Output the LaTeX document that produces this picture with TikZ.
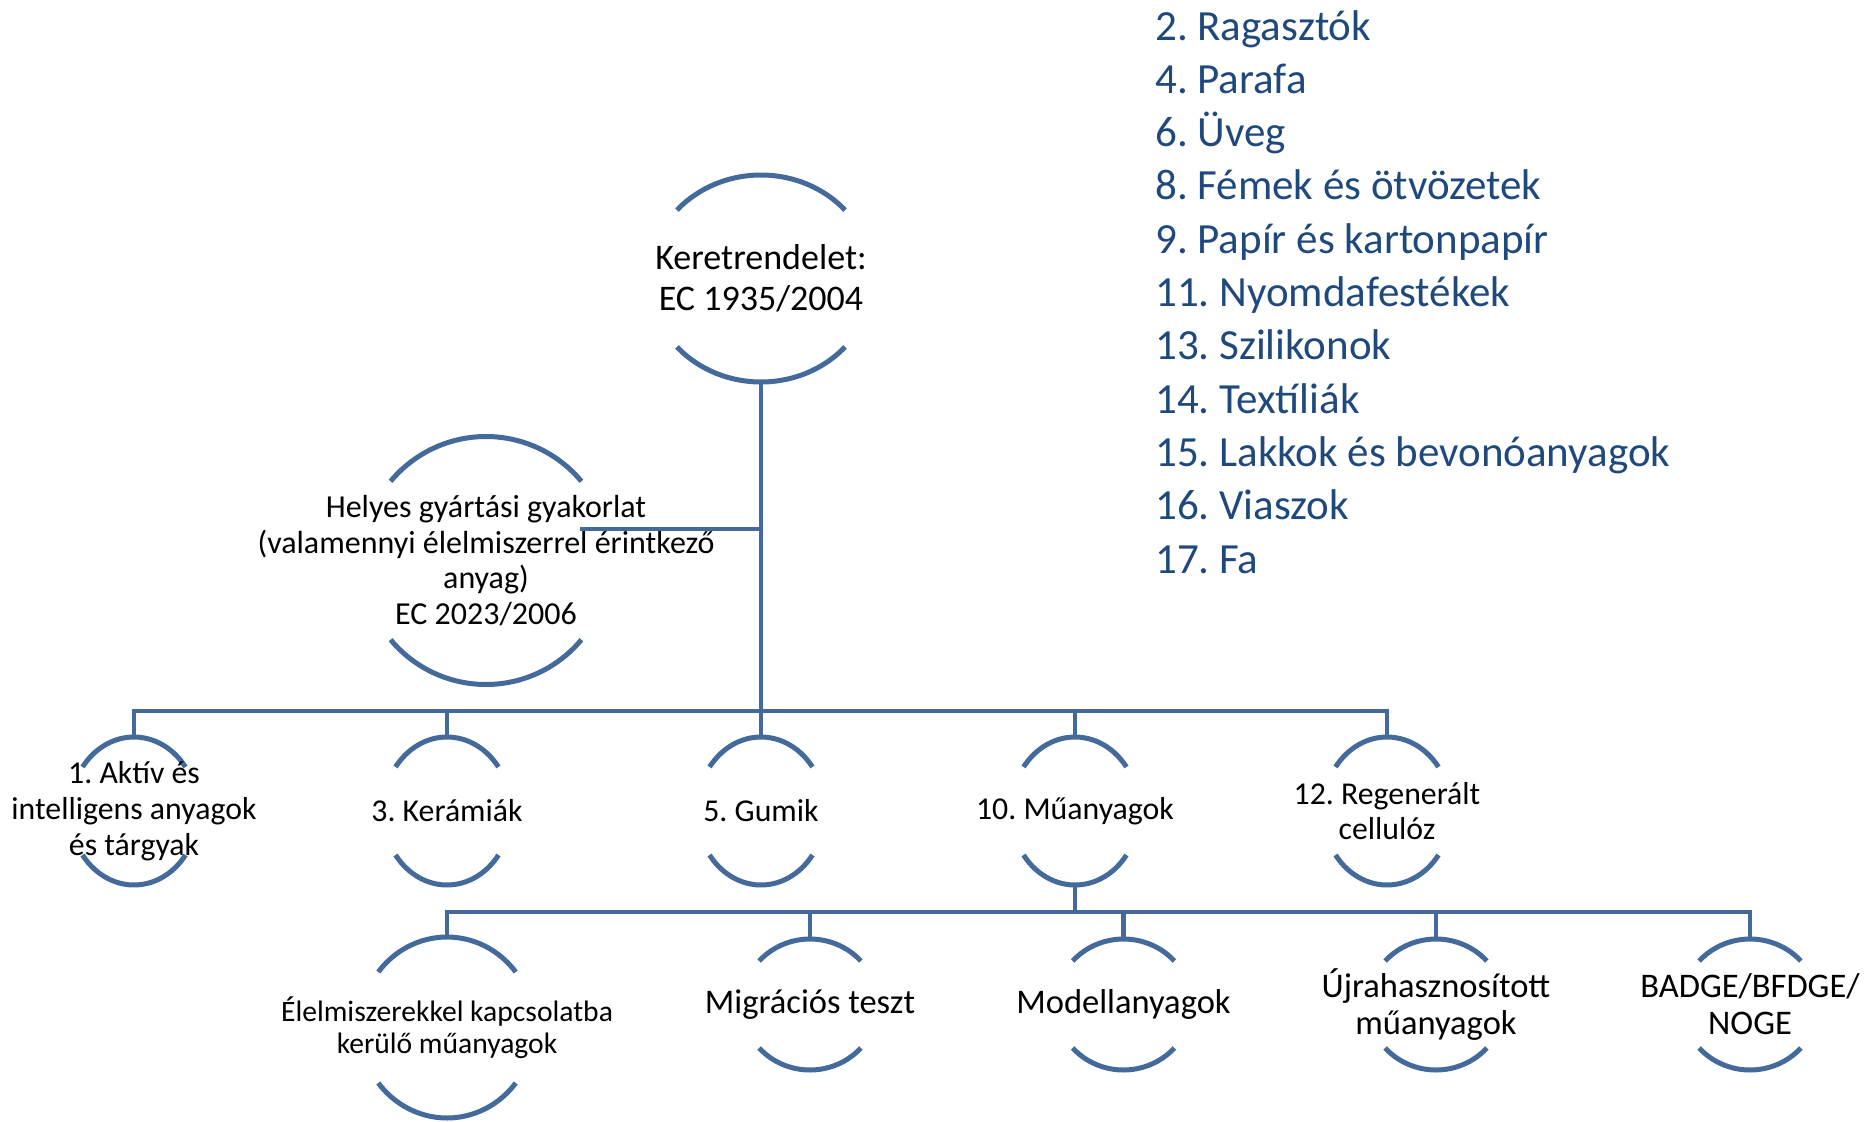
\documentclass[tikz,border=0pt]{standalone}
\usepackage{fontspec}
\setmainfont{Carlito}
\frenchspacing
\definecolor{lineblue}{HTML}{44699B}
\definecolor{textblue}{HTML}{1F497D}
\tikzset{
  arcline/.style={draw=lineblue, line width=5pt},
  conn/.style={draw=lineblue, line width=4.5pt},
  thinconn/.style={draw=lineblue, line width=3.5pt},
  rootlbl/.style={align=center, inner sep=0pt, font=\fontsize{36}{40.5}\selectfont},
  gmplbl/.style={align=center, inner sep=0pt, font=\fontsize{32}{35.5}\selectfont},
  onelbl/.style={align=center, inner sep=0pt, font=\fontsize{31.8}{35.7}\selectfont},
  twolbl/.style={align=center, inner sep=0pt, font=\fontsize{34.5}{37}\selectfont},
  smalllbl/.style={align=center, inner sep=0pt, font=\fontsize{29.6}{32}\selectfont},
  listitem/.style={anchor=base west, inner sep=0pt, text=textblue, font=\fontsize{43}{53}\selectfont}
}
\newcommand\ArcNode[8]{%
  \coordinate (#1-n) at (#2,{#3-#5});
  \coordinate (#1-s) at (#2,{#3+#5});
  \draw[arcline] ({#2+#4*cos(#6)},{#3-#5*sin(#6)}) arc[start angle=#6, end angle={180-#6}, x radius=#4pt, y radius=#5pt];
  \draw[arcline] ({#2-#4*cos(#6)},{#3+#5*sin(#6)}) arc[start angle={180+#6}, end angle={360-#6}, x radius=#4pt, y radius=#5pt];
  \node[#7] (#1) at (#2,#3) {#8};
}
\begin{document}
\begin{tikzpicture}[x=1pt, y=-1pt]
\useasboundingbox (0,0) rectangle (1864,1122);

% root and GMP
\ArcNode{root}{761}{278.5}{112}{103.5}{41.4}{rootlbl}{Keretrendelet:\\EC 1935/2004}
\ArcNode{gmp}{486}{560.5}{124}{124}{39.7}{gmplbl}{Helyes gyártási gyakorlat\\(valamennyi élelmiszerrel érintkező\\anyag)\\EC 2023/2006}

% level 1
\ArcNode{a1}{134}{811}{64}{74}{36.5}{onelbl}{1. Aktív és\\intelligens anyagok\\és tárgyak}
\ArcNode{a3}{447}{811}{64}{74}{36.5}{onelbl}{3. Kerámiák}
\ArcNode{a5}{761}{811}{64}{74}{36.5}{onelbl}{5. Gumik}
\ArcNode{a10}{1075}{811}{64}{74}{36.5}{onelbl}{10. Műanyagok}
\ArcNode{a12}{1387}{811}{64}{74}{36.5}{onelbl}{12. Regenerált\\cellulóz}

% level 2
\ArcNode{c1}{447}{1027.5}{87}{90.5}{37.8}{smalllbl}{Élelmiszerekkel kapcsolatba\\kerülő műanyagok}
\ArcNode{c2}{810}{1004.5}{68}{65.5}{41.6}{twolbl}{Migrációs teszt}
\ArcNode{c3}{1123.5}{1004.5}{68}{65.5}{41.6}{twolbl}{Modellanyagok}
\ArcNode{c4}{1436}{1004.5}{68}{65.5}{41.6}{twolbl}{Újrahasznosított\\műanyagok}
\ArcNode{c5}{1750}{1004.5}{68}{65.5}{41.6}{twolbl}{BADGE/BFDGE/\\NOGE}

% connectors
\coordinate (bus1) at (761,711);
\coordinate (gmpend) at (580,529);
\draw[conn] (root-s) -- (bus1);
\draw[thinconn] (gmpend) -- (gmpend -| root-s);
\draw[conn] (a1-n) -- (a1-n |- bus1) -- (a12-n |- bus1) -- (a12-n);
\draw[conn] (a3-n) -- (a3-n |- bus1);
\draw[conn] (a5-n) -- (a5-n |- bus1);
\draw[conn] (a10-n) -- (a10-n |- bus1);

\coordinate (bus2) at (1075,912);
\draw[conn] (a10-s) -- (bus2);
\draw[conn] (c1-n) -- (c1-n |- bus2) -- (c5-n |- bus2) -- (c5-n);
\draw[conn] (c2-n) -- (c2-n |- bus2);
\draw[conn] (c3-n) -- (c3-n |- bus2);
\draw[conn] (c4-n) -- (c4-n |- bus2);

% list of other materials
\foreach \k/\t [count=\i from 0] in {2/Ragasztók, 4/Parafa, 6/Üveg, 8/Fémek és ötvözetek, 9/Papír és kartonpapír, 11/Nyomdafestékek, 13/Szilikonok, 14/Textíliák, 15/Lakkok és bevonóanyagok, 16/Viaszok, 17/Fa}
  \node[listitem] (item\k) at (1155,{40+53.3*\i}) {\k. \t};
\end{tikzpicture}
\end{document}
